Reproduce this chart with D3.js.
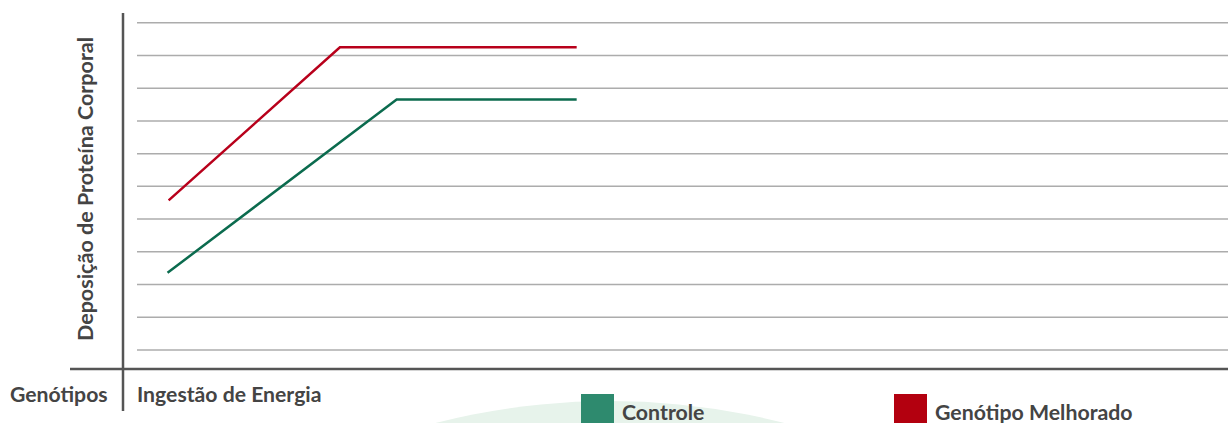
<!DOCTYPE html>
<html><head><meta charset="utf-8">
<script src="https://cdn.jsdelivr.net/npm/d3@7"></script>
<style>
html,body{margin:0;padding:0;background:#fff;}
svg{display:block;font-family:Lato,"Open Sans",sans-serif;}
</style></head>
<body><svg id="chart" width="1228" height="423"></svg>
<script>
// Data (arbitrary units)
const seriesNames = ["Controle", "Genótipo Melhorado"];
const seriesColors = ["#0b6b4e", "#b8001b"];
const swatchColors = ["#2e8a6e", "#b3000f"];
const controleX = [2.8, 23.8, 40.3];
const controleY = [2.36, 7.65, 7.65];
const melhoradoX = [2.9, 18.6, 40.3];
const melhoradoY = [4.57, 9.25, 9.25];
const gridValues = [0,1,2,3,4,5,6,7,8,9,10];
const yLabel = "Deposição de Proteína Corporal";
const xLabel = "Ingestão de Energia";
const groupLabel = "Genótipos";

const W = 1228, H = 423;
const svg = d3.select("#chart");
const x = d3.scaleLinear().domain([0, 100]).range([137, 1228]);
const y = d3.scaleLinear().domain([-0.58, 10]).range([369, 22.7]);

// decorative background circle behind legend
svg.append("circle").attr("cx", 610).attr("cy", 1104).attr("r", 703).attr("fill", "#e7f3eb");

// grid
svg.append("g").selectAll("line").data(gridValues).join("line")
  .attr("x1", x.range()[0]).attr("x2", x.range()[1])
  .attr("y1", d => y(d)).attr("y2", d => y(d))
  .attr("stroke", "#acacac").attr("stroke-width", 1.5);

// axes
svg.append("line").attr("x1", 70).attr("x2", W).attr("y1", y(-0.58)).attr("y2", y(-0.58))
  .attr("stroke", "#555").attr("stroke-width", 2.5);
svg.append("line").attr("x1", 123).attr("x2", 123).attr("y1", 13).attr("y2", 411)
  .attr("stroke", "#555").attr("stroke-width", 2.5);

// lines
const line = d3.line().x(d => x(d[0])).y(d => y(d[1]));
const series = [d3.zip(controleX, controleY), d3.zip(melhoradoX, melhoradoY)];
svg.append("g").selectAll("path").data(series).join("path")
  .attr("d", line).attr("fill", "none")
  .attr("stroke", (d, i) => seriesColors[i]).attr("stroke-width", 2.5);

// labels
svg.append("text").attr("transform", "translate(93,189) rotate(-90)")
  .attr("text-anchor", "middle").attr("font-size", 21.5).attr("font-weight", "bold")
  .attr("fill", "#444").text(yLabel);
svg.append("text").attr("x", 10).attr("y", 402).attr("font-size", 21.2).attr("font-weight", "bold")
  .attr("fill", "#444").text(groupLabel);
svg.append("text").attr("x", 137).attr("y", 402).attr("font-size", 21.2).attr("font-weight", "bold")
  .attr("fill", "#444").text(xLabel);

// legend
const legendX = [581, 894];
const lg = svg.append("g").selectAll("g").data(seriesNames).join("g")
  .attr("transform", (d, i) => `translate(${legendX[i]},394)`);
lg.append("rect").attr("width", 33).attr("height", 29).attr("fill", (d, i) => swatchColors[i]);
lg.append("text").attr("x", 41).attr("y", 26).attr("font-size", 21.3).attr("font-weight", "bold")
  .attr("fill", "#444").text(d => d);
</script></body></html>
